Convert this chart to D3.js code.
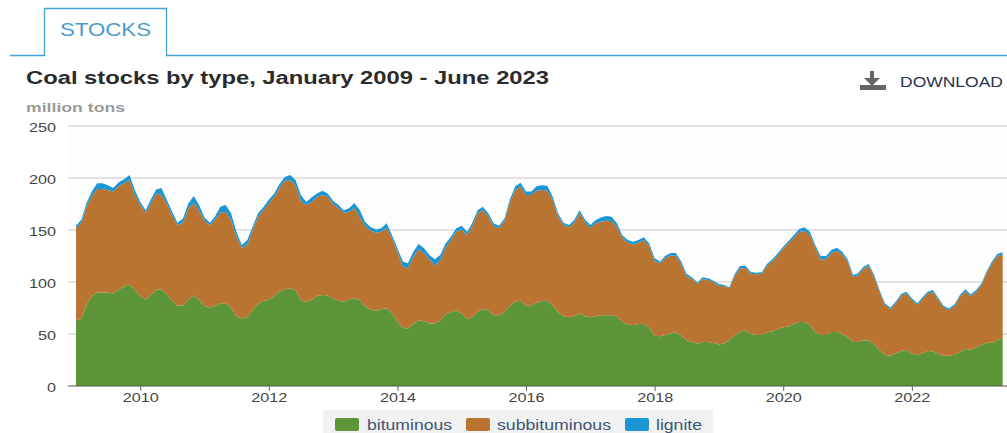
<!DOCTYPE html>
<html>
<head>
<meta charset="utf-8">
<script src="https://cdn.jsdelivr.net/npm/d3@7"></script>
<style>
    html, body { margin: 0; padding: 0; background: #fff; overflow: hidden; }
    svg { display: block; font-family: "Liberation Sans", Arial, sans-serif; }
    .grid line { stroke: #d8d8d8; stroke-width: 1.5; }
    .tick text { font-size: 13px; fill: #444; lengthAdjust: spacingAndGlyphs; }
</style>
</head>
<body>
<div id="chart"></div>
<script>
const titleText = "Coal stocks by type, January 2009 - June 2023";
const unitText = "million tons";
const yTicks = [0, 50, 100, 150, 200, 250];
const seriesNames = ["bituminous", "subbituminous", "lignite"];
const seriesColors = ["#5d9639", "#b97431", "#1a96d6"];

// monthly, January 2009 to June 2023, one row per year
const bituminous = [
    63, 65, 78, 86.5, 90, 90, 90, 89, 93, 95.5, 98, 92,
    86.5, 83, 87.5, 92.6, 93, 88.5, 82, 77.5, 77.5, 83, 87, 82.7,
    77, 75.6, 77, 79.5, 79.5, 75.6, 67, 65, 66, 73, 79, 81.7,
    83, 86.5, 90.7, 93, 94, 92, 83, 80.8, 83, 86.5, 87.5, 87,
    84, 82, 81, 83, 84.6, 82.7, 77, 73.4, 72.4, 73.7, 74.7, 70,
    62, 56, 55, 60, 63, 62.5, 60, 60, 63, 69, 71, 72.7,
    70, 64.5, 66, 71.5, 74, 73, 68, 68, 71, 77, 81, 82,
    77.5, 77, 80, 81.7, 82, 78, 71, 67, 66, 67, 70, 67,
    66, 67, 68, 68, 68, 67, 62, 59, 58.6, 59.6, 59.6, 56,
    48.4, 47.8, 49, 50.6, 51.6, 48.4, 44, 42.6, 40.7, 42.3, 42.3, 41.3,
    40, 41, 44, 49, 52, 53.5, 50, 49, 49, 51.6, 52.6, 54.8,
    56.4, 57.4, 59.6, 61.5, 61.5, 58.6, 52, 49, 49, 52, 52, 50,
    47, 42.3, 42.3, 44, 44, 40, 34.6, 30, 29, 31.4, 34, 34.6,
    31.4, 29.5, 31.4, 33.6, 33.3, 30.8, 29, 29, 30, 33, 35.6, 35,
    37, 39.4, 41.7, 41.7, 44, 46
];
const subbituminous = [
    88.6, 92, 94, 96.2, 99.4, 99.4, 98.5, 98, 99, 99.5, 100, 91.6,
    87.5, 83.7, 87.5, 92.4, 90.6, 87.1, 82, 77.3, 79.5, 87.8, 89, 86.3,
    81.6, 79.2, 82.6, 87.2, 88.1, 84, 76.6, 68, 69.6, 76.4, 83.8, 87.3,
    92.6, 95.5, 99.3, 104.4, 104, 101, 95, 93.2, 94, 95.5, 96.1, 95,
    91, 88.8, 85.7, 84.6, 86.2, 80.1, 76.8, 76, 75, 74.7, 77.3, 72,
    67, 59, 58, 64, 68.4, 65.1, 61.8, 56, 58, 64, 69.4, 75.7,
    80.6, 80.5, 87, 94.5, 95, 90.5, 85.8, 83.6, 87.6, 99, 107.5, 109.7,
    106.1, 106.6, 107.8, 106.8, 105.8, 100.8, 92.5, 87.8, 86.6, 90, 96.7, 90.4,
    86, 89.4, 90, 91, 90.6, 86, 80.6, 78.8, 77.4, 78.2, 80.8, 78.6,
    71.6, 70.2, 73.8, 75, 74, 68.9, 61.5, 60.4, 57.3, 60.7, 59.7, 58.7,
    56.5, 55, 50, 56.8, 61, 60, 58, 58.4, 58.7, 64.1, 67.4, 70.8,
    75.6, 80.3, 82.9, 86.5, 87.6, 86.8, 81.1, 72.5, 73, 75.8, 78, 76.5,
    72.8, 62.6, 64.2, 68.7, 71.3, 64.9, 56.1, 47.9, 45, 48, 52.7, 54.3,
    51.3, 48.5, 52, 55.3, 57.2, 51.9, 46.4, 43.8, 47.2, 52.7, 55.6, 51.4,
    53.7, 57.7, 66.7, 76.1, 81, 80.5
];
const lignite = [
    2.4, 3, 3.6, 4.3, 5.6, 5.6, 4.5, 3.4, 4, 3.7, 5, 4.9,
    3, 2.3, 4, 4, 6.8, 3.4, 3.6, 2.2, 4, 4.8, 6.7, 5,
    3.4, 2.2, 3.2, 5.7, 6.4, 6.4, 4.8, 2.6, 4.8, 3.6, 3.2, 2.8,
    3.4, 3, 4, 3.6, 5, 5, 5.6, 3, 4.4, 3, 4.2, 3,
    3, 3.2, 2.3, 3.2, 5.2, 6.2, 4.2, 3.6, 3.2, 3.2, 4.4, 3,
    3.4, 4.6, 5, 5, 5.1, 4.8, 4.2, 5.8, 5, 4, 3.2, 3.2,
    3.4, 3.4, 3.4, 3, 3.4, 2.5, 2.6, 2.4, 2.4, 3, 3.5, 3.8,
    3.4, 3.4, 4.2, 4.5, 4.8, 3.2, 2.5, 2.2, 2.2, 2.6, 2.3, 2.6,
    2.8, 3.2, 3.9, 4.5, 4.2, 3.4, 2.4, 2.6, 2.8, 2.6, 2.6, 2.4,
    2.8, 1.6, 2.2, 2.4, 2.4, 2.3, 2.5, 1.5, 1.4, 1.5, 1.5, 1.3,
    1.5, 1, 1, 1.9, 2.4, 2.2, 1.6, 1.6, 1.6, 1.6, 1.8, 2,
    2, 2, 2.5, 3, 3.5, 3, 2.5, 3.5, 3, 3, 3, 2.5,
    2, 1.8, 1.8, 2, 2, 1.8, 1.6, 1.6, 1.6, 1.6, 1.8, 1.8,
    1.6, 1.5, 1.6, 1.8, 1.8, 1.6, 1.6, 1.6, 1.6, 1.8, 1.8, 1.6,
    1.6, 1.6, 1.6, 1.8, 2, 2
];

const width = 1007, height = 433;
const margin = { top: 126, right: 4.3, bottom: 47, left: 76 };

const svg = d3.select("#chart")
    .append("svg")
    .attr("width", width)
    .attr("height", height);

// the source picture is stretched sideways, so text gets a fixed width
const stretch = (sel, w) => sel.attr("textLength", w).attr("lengthAdjust", "spacingAndGlyphs");

// tab and its rule
svg.append("path")
    .attr("d", "M10,55.5H44.5V8.5H166.5V55.5H1007")
    .attr("fill", "none")
    .attr("stroke", "#45a2d6")
    .attr("stroke-width", 1.3);

svg.append("text")
    .attr("x", 60)
    .attr("y", 36)
    .attr("font-size", 18)
    .attr("fill", "#4a9bc9")
    .text("STOCKS")
    .call(stretch, 91);

svg.append("text")
    .attr("x", 26)
    .attr("y", 84)
    .attr("font-size", 18)
    .attr("font-weight", "bold")
    .attr("fill", "#2b2b2b")
    .text(titleText)
    .call(stretch, 523);

svg.append("text")
    .attr("x", 26)
    .attr("y", 112)
    .attr("font-size", 13.5)
    .attr("font-weight", "bold")
    .attr("fill", "#9a9a9a")
    .text(unitText)
    .call(stretch, 99);

// download button
const dl = svg.append("g").attr("transform", "translate(860,71)");
dl.append("path")
    .attr("d", "M10,0h4v7h6l-8,8l-8,-8h6z")
    .attr("fill", "#666");
dl.append("rect")
    .attr("y", 14)
    .attr("width", 26)
    .attr("height", 5)
    .attr("fill", "#666");

svg.append("text")
    .attr("x", 900)
    .attr("y", 87)
    .attr("font-size", 14.5)
    .attr("fill", "#2b3350")
    .text("DOWNLOAD")
    .call(stretch, 103);

// scales
const dates = bituminous.map((d, i) => new Date(2009, i, 1));
const rows = dates.map((date, i) => ({
    date: date,
    bituminous: bituminous[i],
    subbituminous: subbituminous[i],
    lignite: lignite[i]
}));

const x = d3.scaleTime()
    .domain([dates[0], dates[dates.length - 1]])
    .range([margin.left, width - margin.right]);

const y = d3.scaleLinear()
    .domain([0, 250])
    .range([height - margin.bottom, margin.top]);

// faint plot background
svg.append("rect")
    .attr("x", 68)
    .attr("y", margin.top)
    .attr("width", width - 68)
    .attr("height", height - margin.bottom - margin.top)
    .attr("fill", "#fdfdfd");

svg.append("g")
    .attr("class", "grid")
    .selectAll("line")
    .data(yTicks.filter(d => d > 0))
    .join("line")
    .attr("x1", 68)
    .attr("x2", width)
    .attr("y1", d => y(d))
    .attr("y2", d => y(d));

// stacked areas
const stacked = d3.stack().keys(seriesNames)(rows);

const area = d3.area()
    .x(d => x(d.data.date))
    .y0(d => y(d[0]))
    .y1(d => y(d[1]));

svg.selectAll(".layer")
    .data(stacked)
    .join("path")
    .attr("class", "layer")
    .attr("d", area)
    .attr("fill", (d, i) => seriesColors[i]);

// axes
const xAxis = d3.axisBottom(x)
    .ticks(d3.timeYear.every(2))
    .tickFormat(d3.timeFormat("%Y"))
    .tickSize(5)
    .tickSizeOuter(0);

const xG = svg.append("g")
    .attr("transform", `translate(0,${height - margin.bottom})`)
    .call(xAxis);
xG.select(".domain").remove();
xG.selectAll(".tick line").attr("stroke", "#666");
xG.selectAll(".tick text").attr("dy", "0.6em").call(stretch, 36);
xG.append("line")
    .attr("x1", 68)
    .attr("x2", width)
    .attr("stroke", "#555")
    .attr("stroke-width", 1.2);

const yAxis = d3.axisLeft(y)
    .tickValues(yTicks)
    .tickSize(0)
    .tickPadding(0);

const yG = svg.append("g")
    .attr("transform", "translate(56,1)")
    .call(yAxis);
yG.select(".domain").remove();
yG.selectAll(".tick text").each(function (d) {
    d3.select(this).call(stretch, String(d).length * 9);
});

// legend
const legend = svg.append("g");
legend.append("rect")
    .attr("x", 323)
    .attr("y", 410)
    .attr("width", 390)
    .attr("height", 23)
    .attr("fill", "#f1f1f1");

const legendX = [335, 466, 625];
const labelX = [367, 497, 656];
const labelW = [85, 114, 46];

legend.selectAll(".swatch")
    .data(seriesNames)
    .join("rect")
    .attr("class", "swatch")
    .attr("x", (d, i) => legendX[i])
    .attr("y", 418)
    .attr("width", 24)
    .attr("height", 13)
    .attr("rx", 2)
    .attr("fill", (d, i) => seriesColors[i]);

legend.selectAll(".label")
    .data(seriesNames)
    .join("text")
    .attr("class", "label")
    .attr("x", (d, i) => labelX[i])
    .attr("y", 430)
    .attr("font-size", 14.5)
    .attr("fill", "#3d5573")
    .attr("textLength", (d, i) => labelW[i])
    .attr("lengthAdjust", "spacingAndGlyphs")
    .text(d => d);
</script>
</body>
</html>
